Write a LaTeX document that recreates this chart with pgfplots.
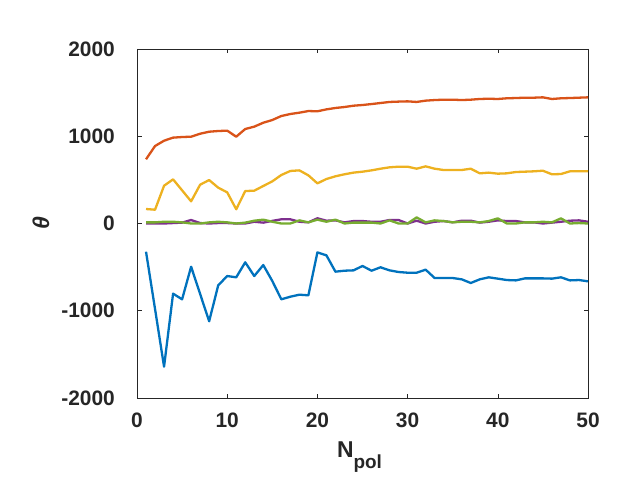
\documentclass[border=0pt]{standalone}
\usepackage{fontspec}
\setmainfont{Liberation Sans}
\usepackage{pgfplots}
\usepackage{pgfplotstable}
\pgfplotsset{compat=1.18}

\definecolor{mblue}{rgb}{0,0.447,0.741}
\definecolor{morange}{rgb}{0.85,0.325,0.098}
\definecolor{myellow}{rgb}{0.929,0.694,0.125}
\definecolor{mpurple}{rgb}{0.494,0.184,0.556}
\definecolor{mgreen}{rgb}{0.466,0.674,0.188}
\definecolor{axgray}{rgb}{0.15,0.15,0.15}

% n, then the five series in plotting order
\pgfplotstableread{
n blue orange yellow purple green
1 -323 736 166 0 13
2 -980 888 158 0 13
3 -1641 949 433 0 20
4 -804 984 506 5 20
5 -869 991 380 10 13
6 -495 995 254 40 0
7 -808 1029 445 5 0
8 -1121 1052 498 0 13
9 -709 1060 411 5 20
10 -602 1064 357 5 13
11 -617 995 163 0 0
12 -445 1083 372 0 10
13 -602 1110 376 20 32
14 -476 1155 430 10 44
15 -659 1186 483 30 20
16 -869 1232 556 48 0
17 -839 1255 602 48 0
18 -816 1270 609 20 36
19 -823 1289 552 13 13
20 -331 1286 460 60 44
21 -365 1308 510 32 20
22 -552 1324 541 36 44
23 -541 1335 564 13 0
24 -537 1350 583 28 10
25 -487 1358 594 28 10
26 -541 1369 609 20 10
27 -502 1381 628 20 0
28 -537 1393 644 40 36
29 -556 1397 651 40 0
30 -564 1400 651 0 0
31 -564 1393 628 32 70
32 -529 1408 655 0 13
33 -625 1415 628 20 36
34 -625 1419 613 28 28
35 -625 1419 613 13 13
36 -640 1415 613 32 20
37 -682 1419 628 32 20
38 -640 1427 575 10 13
39 -617 1430 583 20 28
40 -632 1427 571 36 59
41 -648 1435 575 28 0
42 -652 1438 590 28 0
43 -629 1442 594 13 13
44 -629 1442 598 13 13
45 -629 1446 605 0 20
46 -632 1427 564 10 13
47 -617 1435 567 20 59
48 -652 1438 598 32 0
49 -648 1442 598 36 5
50 -663 1446 598 20 0
}\datatable

\begin{document}
\begin{tikzpicture}
\useasboundingbox (0,0) rectangle (623bp,498bp);
\begin{axis}[
    at={(137bp,100bp)}, anchor=south west,
    scale only axis, width=451bp, height=349bp,
    xmin=0, xmax=50, ymin=-2000, ymax=2000,
    xtick={0,10,20,30,40,50},
    xticklabels={0,10,20,30,40,50},
    ytick={-2000,-1000,0,1000,2000},
    yticklabels={-2000,-1000,0,1000,2000},
    tick align=inside,
    major tick length=4.5bp,
    axis line style={draw=axgray, line width=0.5bp},
    every tick/.style={draw=axgray, line width=0.5bp},
    ticklabel style={font=\bfseries\fontsize{21}{24}\selectfont, text=axgray, inner sep=0pt},
    xticklabel style={anchor=north, yshift=-15bp},
    yticklabel style={anchor=east, xshift=-22bp},
    xlabel={N\raisebox{-11bp}{\fontsize{19}{22}\selectfont pol}},
    xlabel style={at={(axis description cs:0.5,-0.126)}, anchor=north,
        font=\bfseries\fontsize{23}{26}\selectfont, text=axgray, inner sep=0pt, xshift=-3bp},
    ylabel={\itshape θ},
    ylabel style={at={(axis description cs:-0.213,0.5)}, anchor=center, rotate=0,
        font=\bfseries\fontsize{23}{26}\selectfont, text=axgray, inner sep=0pt},
    every axis plot/.append style={line width=2.3bp, line join=round},
]
\addplot[mblue] table[x=n, y=blue] {\datatable};
\addplot[morange] table[x=n, y=orange] {\datatable};
\addplot[myellow] table[x=n, y=yellow] {\datatable};
\addplot[mpurple] table[x=n, y=purple] {\datatable};
\addplot[mgreen] table[x=n, y=green] {\datatable};
\end{axis}
\end{tikzpicture}
\end{document}
